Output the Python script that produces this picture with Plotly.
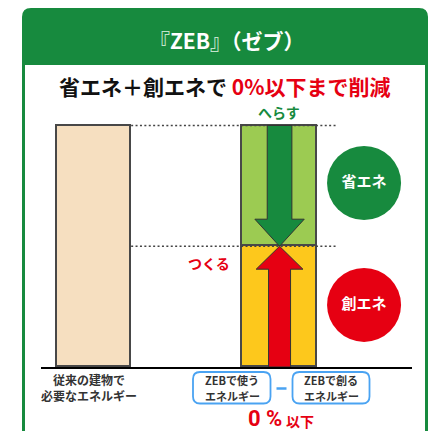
import plotly.graph_objects as go

# ---- data ----
categories = [0, 1]                      # 0: conventional building, 1: ZEB
conventional_energy = [100, None]        # 従来の建物で必要なエネルギー
zeb_used_energy = [None, 50]             # ZEBで使うエネルギー (yellow part)
saved_energy = [None, 50]                # 省エネ (light green part)
created_energy = 50                      # 創エネ
circle_labels = ["省エネ", "創エネ"]

W, H = 436, 431
FONT = "Noto Sans CJK JP"
GREEN = "#178a3e"
RED = "#e60012"
BLUE = "#4aa3f2"


def px(x):
    return x / W


def py(y):
    return 1 - y / H


def rrect(x0, y0, x1, y1, r, top_only=False):
    rb = 0 if top_only else r
    pts = [
        f"M {px(x0 + r)},{py(y0)}",
        f"L {px(x1 - r)},{py(y0)}",
        f"Q {px(x1)},{py(y0)} {px(x1)},{py(y0 + r)}",
        f"L {px(x1)},{py(y1 - rb)}",
        f"Q {px(x1)},{py(y1)} {px(x1 - rb)},{py(y1)}",
        f"L {px(x0 + rb)},{py(y1)}",
        f"Q {px(x0)},{py(y1)} {px(x0)},{py(y1 - rb)}",
        f"L {px(x0)},{py(y0 + r)}",
        f"Q {px(x0)},{py(y0)} {px(x0 + r)},{py(y0)}",
        "Z",
    ]
    return " ".join(pts)


fig = go.Figure()

bar_line = dict(color="#484848", width=1.8)
fig.add_trace(go.Bar(x=categories, y=conventional_energy, width=0.4,
                     marker=dict(color="#f6dfc0", line=bar_line), hoverinfo="skip"))
fig.add_trace(go.Bar(x=categories, y=zeb_used_energy, width=0.4,
                     marker=dict(color="#fdc81c", line=bar_line), hoverinfo="skip"))
fig.add_trace(go.Bar(x=categories, y=saved_energy, width=0.4,
                     marker=dict(color="#9ccb52", line=bar_line), hoverinfo="skip"))

# circles (decorative labels)
fig.add_trace(go.Scatter(
    x=[1.4555, 1.4555], y=[76.2, 25.7], mode="markers+text",
    marker=dict(size=74, color=[GREEN, RED]),
    text=[f"<b>{t}</b>" for t in circle_labels], textposition="middle center",
    textfont=dict(family=FONT, size=15, color="white"), hoverinfo="skip"))

top = conventional_energy[0]
level = zeb_used_energy[1]

shapes = []
# frame
shapes.append(dict(type="path", xref="paper", yref="paper", layer="below",
                   path=rrect(22, 8, 428, 460, 9, top_only=True),
                   fillcolor=GREEN, line=dict(width=0)))
shapes.append(dict(type="rect", xref="paper", yref="paper", layer="below",
                   x0=px(25), x1=px(425), y0=py(460), y1=py(65),
                   fillcolor="white", line=dict(width=0)))

# dotted guide lines
for yv in [top, level]:
    shapes.append(dict(type="line", xref="x", yref="y", x0=0.2, x1=1.305, y0=yv, y1=yv,
                       line=dict(color="#444444", width=1.6, dash="2px,2.4px"), layer="above"))

# green arrow (省エネ: from top down to level)
cx = 1
sw, hw, hl = 0.0665, 0.133, 11.2
hb = level + hl
gpath = (f"M {cx - sw},{top} L {cx + sw},{top} L {cx + sw},{hb} L {cx + hw},{hb} "
         f"L {cx},{level} L {cx - hw},{hb} L {cx - sw},{hb} Z")
shapes.append(dict(type="path", xref="x", yref="y", path=gpath, fillcolor=GREEN,
                   line=dict(color="#333333", width=1), layer="above"))
# red arrow (創エネ: from 0 up to created level)
sw, hw, hl = 0.0593, 0.126, 9.5
tip = created_energy
hb = tip - hl
rpath = (f"M {cx - sw},0 L {cx + sw},0 L {cx + sw},{hb} L {cx + hw},{hb} "
         f"L {cx},{tip} L {cx - hw},{hb} L {cx - sw},{hb} Z")
shapes.append(dict(type="path", xref="x", yref="y", path=rpath, fillcolor=RED,
                   line=dict(color="#333333", width=1), layer="above"))

# label boxes
for x0, x1 in [(193, 270.5), (292.5, 369.5)]:
    shapes.append(dict(type="path", xref="paper", yref="paper",
                       path=rrect(x0, 372, x1, 403.5, 7), fillcolor="white",
                       line=dict(color=BLUE, width=1.8)))
shapes.append(dict(type="line", xref="paper", yref="paper", x0=px(276.5), x1=px(286.5),
                   y0=py(388.5), y1=py(388.5), line=dict(color=BLUE, width=2.5)))

ann = []


def a(x, y, text, size, color, family=FONT, **kw):
    d = dict(xref="paper", yref="paper", x=px(x), y=py(y), text=text, showarrow=False,
             xanchor="center", yanchor="middle", borderpad=0,
             font=dict(family=family, size=size, color=color))
    d.update(kw)
    ann.append(d)


a(227, 40, "<b><span style='color:#c3e3cb'>『</span>ZEB<span style='color:#c3e3cb'>』</span>（ゼブ）</b>",
  21, "white")
a(225, 86, f"<b>省エネ＋創エネで <span style='color:{RED}'>0%以下まで削減</span></b>", 21, "#111111")
a(279, 112, "<b>へらす</b>", 14, GREEN)
a(209, 263, "<b>つくる</b>", 14, RED)
ann.append(dict(xref="x", yref="paper", x=0, xshift=-5, y=py(387),
                text="<b>従来の建物で<br>必要なエネルギー</b>", showarrow=False,
                xanchor="center", yanchor="middle", borderpad=0,
                font=dict(family=FONT, size=12, color="#333333")))
a(232, 380, "<b>ZEBで使う</b>", 11, "#333333")
a(232, 396.3, "<b>エネルギー</b>", 11, "#333333")
a(331, 380, "<b>ZEBで創る</b>", 11, "#333333")
a(331, 396.3, "<b>エネルギー</b>", 11, "#333333")
a(265, 418, "<b>0 %</b>", 22, RED, family="Roboto")
a(300, 420.5, "<b>以下</b>", 14, RED)

fig.update_layout(
    width=W, height=H, margin=dict(l=0, r=0, t=0, b=0),
    paper_bgcolor="white", plot_bgcolor="rgba(0,0,0,0)",
    barmode="stack", showlegend=False, bargap=0,
    shapes=shapes, annotations=ann,
    xaxis=dict(domain=[41 / W, 412 / W], range=[-0.286, 1.714], showgrid=False,
               zeroline=False, showticklabels=False, ticks="", showline=True,
               linecolor="black", linewidth=2.2, fixedrange=True),
    yaxis=dict(domain=[1 - 367 / H, 1 - 110 / H], range=[0, 257 / 2.415], showgrid=False,
               zeroline=False, showticklabels=False, ticks="", showline=False,
               fixedrange=True),
)

fig.write_html("out.html", config={"displayModeBar": False},
               post_script="document.body.style.margin='0px';document.body.style.overflow='hidden';")
